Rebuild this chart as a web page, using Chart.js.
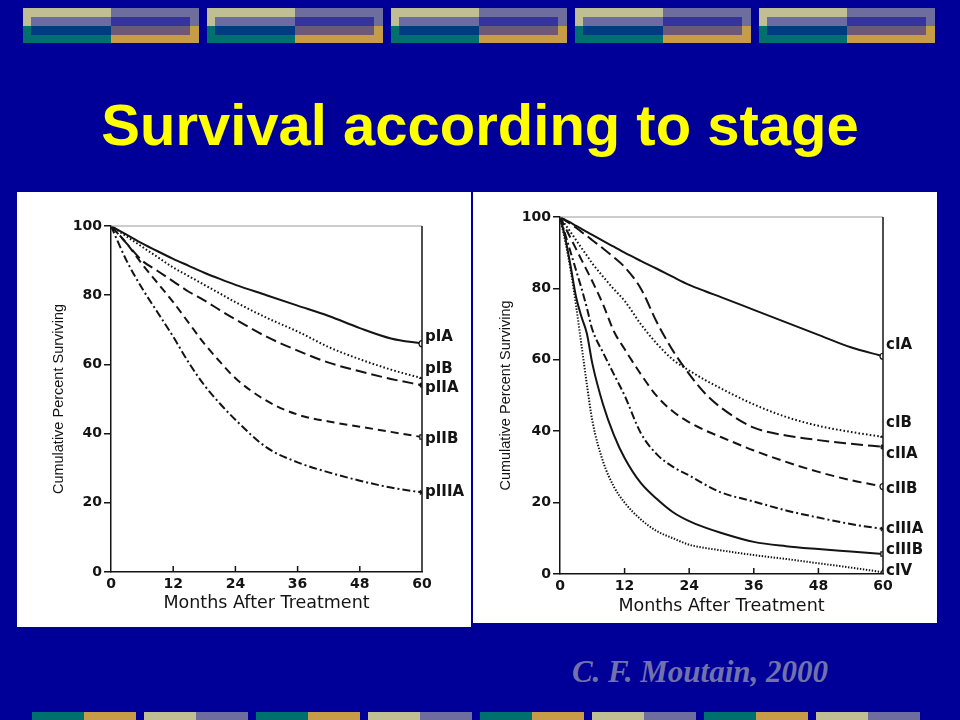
<!DOCTYPE html>
<html>
<head>
<meta charset="utf-8">
<title>Survival according to stage</title>
<script src="https://cdn.jsdelivr.net/npm/chart.js@4.4.1/dist/chart.umd.min.js"></script>
<style>
  html, body { margin: 0; padding: 0; }
  body {
    width: 960px; height: 720px; overflow: hidden; position: relative;
    background: #000099;
  }
  #title {
    position: absolute; left: 0; top: 96px; width: 960px;
    text-align: center; color: #ffff00;
    font: bold 58px/58px "Liberation Sans", Arial, sans-serif;
  }
  #source {
    position: absolute; left: 500px; top: 656px; width: 400px;
    text-align: center; color: #7272aa;
    font: italic bold 31px/31px "Liberation Serif", "Times New Roman", serif;
  }
  .panel { position: absolute; background: #fff; }
  #panelL { left: 17px; top: 192px; width: 454px; height: 435px; }
  #panelR { left: 473px; top: 192px; width: 464px; height: 431px; }
  .deco { position: absolute; }
</style>
</head>
<body>
<div id="title">Survival according to stage</div>
<div id="panelL" class="panel"><canvas id="chartL" width="454" height="435"></canvas></div>
<div id="panelR" class="panel"><canvas id="chartR" width="464" height="431"></canvas></div>
<div id="source">C. F. Moutain, 2000</div>

<script>
// --- data ---
const monthsP = [0, 3, 6, 9, 12, 15, 18, 21, 24, 30, 36, 42, 48, 54, 60];
const pIA   = [100, 97.5, 95, 92.7, 90.5, 88.5, 86.5, 84.7, 83, 80, 77, 74, 70.5, 67.5, 66];
const pIB   = [100, 97, 94, 91, 88, 85.5, 83, 80.5, 78, 73.5, 69.5, 65, 61.5, 58.5, 56];
const pIIA  = [100, 95, 90, 87, 84, 81, 78.5, 75.7, 73, 68, 64, 60.5, 58, 55.8, 54];
const pIIB  = [100, 95, 89, 83.5, 78, 72, 66, 60.8, 56, 49.5, 45.5, 43.5, 42, 40.5, 39];
const pIIIA = [100, 90, 82, 75, 68, 60.5, 54, 48.7, 44, 36, 31.7, 28.8, 26.4, 24.4, 23];

const monthsC = [0, 1, 2, 3, 4, 5, 6, 8, 10, 12, 15, 18, 21, 24, 27, 30, 36, 42, 48, 54, 60];
const cIA   = [100, 99.2, 98.4, 97.5, 96.7, 95.8, 95, 93.3, 91.7, 90, 87.7, 85.5, 83.2, 81, 79.2, 77.5, 74, 70.5, 67, 63.5, 61];
const cIB   = [100, 97.8, 95.7, 93.5, 91.3, 89.2, 87, 83.3, 79.8, 76.5, 70, 64.5, 60, 57, 54.3, 51.9, 47.5, 44, 41.5, 39.8, 38.4];
const cIIA  = [100, 99, 98, 97, 95.8, 94.7, 93.5, 91.2, 88.7, 86, 80, 70.5, 62.5, 56, 50.5, 46.5, 41, 38.8, 37.5, 36.5, 35.6];
const cIIB  = [100, 97, 94, 91, 88, 85, 82, 75.5, 68, 63, 56, 49.8, 45.5, 42.5, 40.2, 38.3, 34.6, 31.4, 28.6, 26.3, 24.5];
const cIIIA = [100, 95, 90, 85, 80, 74.5, 68.5, 62, 56, 50, 39.5, 33.5, 30, 27.6, 25, 22.8, 20.3, 17.8, 15.8, 14, 12.6];
const cIIIB = [100, 94, 86, 77.5, 72, 67.3, 59, 47.5, 39, 32.5, 25.5, 21, 17.3, 14.8, 13, 11.5, 9, 7.8, 7, 6.3, 5.6];
const cIV   = [100, 93, 85, 75, 64, 53, 43, 31.5, 24.5, 20, 15.3, 12, 10, 8.2, 7.3, 6.6, 5.3, 4.2, 3, 1.8, 0.5];

const monthTicks = [0, 12, 24, 36, 48, 60];
const percentTicks = [0, 20, 40, 60, 80, 100];

// --- decorative slide bars ---
function box(x, y, w, h, color) {
    let d = document.createElement("div");
    d.className = "deco";
    d.style.cssText = `left:${x}px;top:${y}px;width:${w}px;height:${h}px;background:${color}`;
    document.body.appendChild(d);
}
for (let i = 0; i < 5; i++) {
    let x = 23 + i * 184;
    box(x, 8, 88, 18, "#bfbf93");
    box(x + 88, 8, 88, 18, "#6e6e9e");
    box(x, 26, 88, 17, "#00706e");
    box(x + 88, 26, 88, 17, "#c79c48");
    box(x + 8, 17, 80, 9, "#6c6ca0");
    box(x + 88, 17, 79, 9, "#34349c");
    box(x + 8, 26, 80, 9, "#003a80");
    box(x + 88, 26, 79, 9, "#6c5878");
}
for (let k = 0; k < 8; k++) {
    let x = 32 + k * 112;
    box(x, 712, 52, 8, k % 2 ? "#bfbf93" : "#00706e");
    box(x + 52, 712, 52, 8, k % 2 ? "#6e6e9e" : "#c79c48");
}

// --- chart helpers ---
const INK = "#141414";
const tickFont = { family: "'DejaVu Sans', sans-serif", size: 14, weight: "bold" };

function curve(label, months, values, dash, marker, shift) {
    return {
        label: label,
        data: months.map((m, i) => ({ x: m, y: values[i] })),
        borderColor: INK,
        borderWidth: 2,
        borderDash: dash,
        cubicInterpolationMode: "monotone",
        pointStyle: marker || "circle",
        pointRadius: ctx => (marker && ctx.dataIndex === months.length - 1) ? 3 : 0,
        pointBorderColor: INK,
        pointBackgroundColor: "#fff",
        pointBorderWidth: 1.2,
        labelShift: shift
    };
}

// frame, inward month ticks and the stage labels at the right edge
const stageLabels = {
    id: "stageLabels",
    afterDraw(chart) {
        const { ctx, chartArea: a, scales: { x, y } } = chart;
        ctx.save();
        ctx.lineWidth = 1;
        ctx.strokeStyle = "#9a9a9a";
        ctx.beginPath();
        ctx.moveTo(a.left, a.top);
        ctx.lineTo(a.right, a.top);
        ctx.stroke();
        ctx.strokeStyle = INK;
        ctx.lineWidth = 1.5;
        ctx.beginPath();
        ctx.moveTo(a.right, a.top);
        ctx.lineTo(a.right, a.bottom);
        monthTicks.slice(1, -1).forEach(m => {
            let px = x.getPixelForValue(m);
            ctx.moveTo(px, a.bottom);
            ctx.lineTo(px, a.bottom - 6);
        });
        ctx.stroke();
        ctx.font = "bold 15px 'DejaVu Sans', sans-serif";
        ctx.fillStyle = INK;
        ctx.textAlign = "left";
        ctx.textBaseline = "middle";
        chart.data.datasets.forEach(ds => {
            let last = ds.data[ds.data.length - 1];
            ctx.fillText(ds.label, a.right + 3, y.getPixelForValue(last.y) + ds.labelShift);
        });
        ctx.restore();
    }
};

function makeChart(id, datasets, pad, yWidth, xHeight) {
    return new Chart(document.getElementById(id), {
        type: "line",
        data: { datasets: datasets },
        options: {
            responsive: false,
            animation: false,
            layout: { padding: pad },
            plugins: { legend: { display: false }, tooltip: { enabled: false } },
            scales: {
                x: {
                    type: "linear", min: 0, max: 60,
                    afterBuildTicks: s => { s.ticks = monthTicks.map(v => ({ value: v })); },
                    afterFit: s => { s.height = xHeight; },
                    grid: { drawOnChartArea: false, drawTicks: false },
                    border: { color: INK, width: 1.5 },
                    ticks: { color: INK, font: tickFont, padding: 4, maxRotation: 0 },
                    title: {
                        display: true, text: "Months After Treatment", color: INK, padding: 0,
                        font: { family: "'DejaVu Sans', sans-serif", size: 17.5 }
                    }
                },
                y: {
                    min: 0, max: 100,
                    afterBuildTicks: s => { s.ticks = percentTicks.map(v => ({ value: v })); },
                    afterFit: s => { s.width = yWidth; },
                    grid: { drawOnChartArea: false, drawTicks: true, tickLength: 7, color: INK, lineWidth: 1.5 },
                    border: { color: INK, width: 1.5 },
                    ticks: { color: INK, font: tickFont, padding: 2 },
                    title: {
                        display: true, text: "Cumulative Percent Surviving", color: INK, padding: 0,
                        font: { family: "'Liberation Sans', Arial, sans-serif", size: 14.5 }
                    }
                }
            }
        },
        plugins: [stageLabels]
    });
}

const dotted = [1.6, 2.2];

makeChart("chartL", [
    curve("pIA", monthsP, pIA, [], "circle", -7),
    curve("pIB", monthsP, pIB, dotted, "line", -9),
    curve("pIIA", monthsP, pIIA, [11, 5], "star", 3),
    curve("pIIB", monthsP, pIIB, [8, 5], "rect", 2),
    curve("pIIIA", monthsP, pIIIA, [8, 3, 2, 3], "crossRot", 0)
], { left: 33, top: 34, right: 49, bottom: 13 }, 61, 42);

makeChart("chartR", [
    curve("cIA", monthsC, cIA, [], "circle", -11),
    curve("cIB", monthsC, cIB, dotted, "line", -14),
    curve("cIIA", monthsC, cIIA, [12, 5], "star", 7),
    curve("cIIB", monthsC, cIIB, [9, 5], "circle", 3),
    curve("cIIIA", monthsC, cIIIA, [8, 3, 2, 3], "crossRot", 0),
    curve("cIIIB", monthsC, cIIIB, [], "rect", -4),
    curve("cIV", monthsC, cIV, [1.4, 1.6], "triangle", -1)
], { left: 24, top: 25, right: 54, bottom: 6 }, 63, 43);
</script>
</body>
</html>
